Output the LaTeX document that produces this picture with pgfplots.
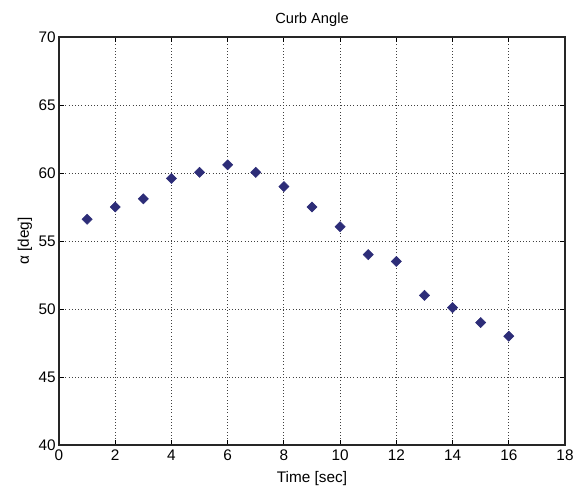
\documentclass[border=0pt]{standalone}
\usepackage{pgfplots}
\pgfplotsset{compat=1.18}
\usepackage{fontspec}
\setmainfont{Liberation Sans}
\definecolor{mk}{RGB}{45,45,120}
\begin{document}
\begin{tikzpicture}[x=1pt,y=1pt]
\begin{axis}[
  scale only axis,
  width=379.5pt, height=306pt,
  xmin=0, xmax=18, ymin=40, ymax=70,
  xtick={0,2,...,18}, ytick={40,45,...,70},
  tick align=inside, major tick length=4pt,
  tick style={black, line width=0.6pt},
  axis line style={black!85, line width=1pt},
  grid=major,
  major grid style={black!75, dotted, line width=0.6pt},
  /pgf/number format/assume math mode=true,
  tick label style={font=\fontsize{11.5}{12}\selectfont},
  yticklabel style={xshift=1pt},
  every axis title shift=0pt,
  title={Curb Angle},
  xlabel={Time [sec]},
  ylabel={α [deg]},
  title style={font=\fontsize{11}{12}\selectfont, at={(axis description cs:0.5,1.0417)}, anchor=center},
  xlabel style={font=\fontsize{11.5}{12}\selectfont, at={(axis description cs:0.5,-0.0833)}, anchor=center},
  ylabel style={font=\fontsize{11.5}{12}\selectfont, at={(axis description cs:-0.0672,0.5)}, anchor=center},
]
\addplot[only marks, mark=square*, mark size=2.7pt, mark options={fill=mk, draw=mk, rotate=45}] coordinates {
 (1,56.6) (2,57.5) (3,58.1) (4,59.6) (5,60.05) (6,60.6) (7,60.05) (8,59.0)
 (9,57.5) (10,56.05) (11,54.0) (12,53.5) (13,51.0) (14,50.1) (15,49.0) (16,48.0)
};
\end{axis}
\pgfresetboundingbox
\path ([xshift=-44.25pt,yshift=-33pt]current axis.south west) rectangle ([xshift=8.25pt,yshift=27.75pt]current axis.north east);
\end{tikzpicture}
\end{document}
